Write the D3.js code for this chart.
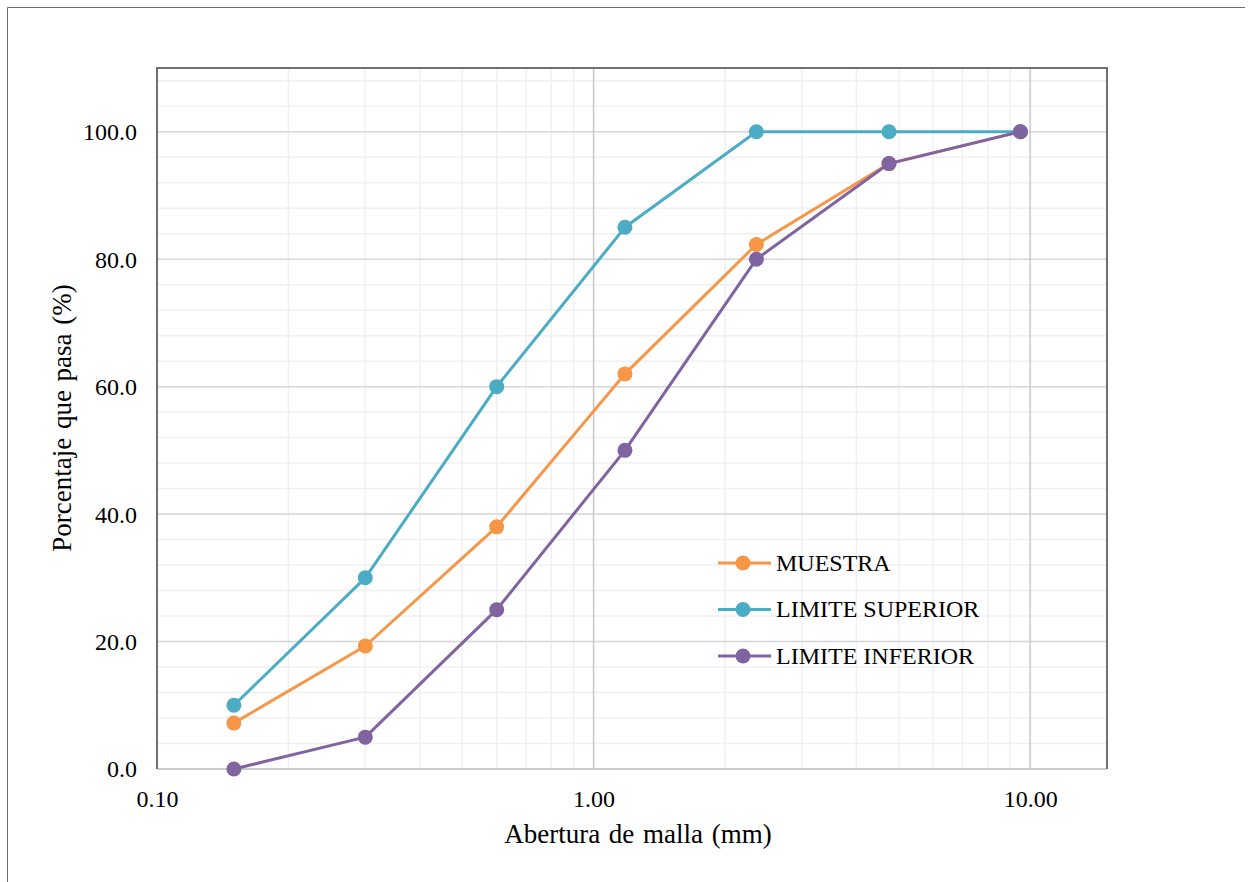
<!DOCTYPE html>
<html>
<head>
<meta charset="utf-8">
<script src="https://cdn.jsdelivr.net/npm/d3@7"></script>
<style>
  html, body { margin: 0; padding: 0; background: #fff; }
  svg { display: block; }
  text { font-family: "Liberation Serif", "Times New Roman", serif; fill: #000; }
</style>
</head>
<body>
<svg id="chart" width="1252" height="882"></svg>
<script>
// Sieve openings (mm) and percent passing
const aberturas = [0.15, 0.3, 0.6, 1.18, 2.36, 4.75, 9.5];
const muestra = [7.2, 19.3, 38.0, 62.0, 82.3, 95.0, 100.0];
const limiteSuperior = [10, 30, 60, 85, 100, 100, 100];
const limiteInferior = [0, 5, 25, 50, 80, 95, 100];
const seriesNames = ["MUESTRA", "LIMITE SUPERIOR", "LIMITE INFERIOR"];
const seriesColors = ["#f79646", "#4bacc6", "#8064a2"];
const xTickValues = [0.1, 1, 10];
const yTickValues = [0, 20, 40, 60, 80, 100];

const svg = d3.select("#chart");
const W = 1252, H = 882;
const m = { left: 157, top: 68, right: 1107, bottom: 769 };
const FONT = "Liberation Serif, Times New Roman, serif";

// Outer frame
svg.append("path")
  .attr("d", `M7.5,${H} V7.5 H1245`)
  .attr("fill", "none").attr("stroke", "#6e6e6e").attr("stroke-width", 1);

const x = d3.scaleLog().domain([0.1, 15]).range([m.left, m.right]);
const y = d3.scaleLinear().domain([0, 110]).range([m.bottom, m.top]);

const grid = svg.append("g");

// Minor horizontal grid every 4
grid.selectAll("line.hmin").data(d3.range(0, 111, 4))
  .join("line")
  .attr("x1", m.left).attr("x2", m.right)
  .attr("y1", d => y(d)).attr("y2", d => y(d))
  .attr("stroke", "#f0f0f0").attr("stroke-width", 1.5);

// Minor vertical grid (2..9 within each decade)
const minorX = [];
[0.1, 1].forEach(dec => { for (let k = 2; k <= 9; k++) minorX.push(dec * k); });
grid.selectAll("line.vmin").data(minorX)
  .join("line")
  .attr("x1", d => x(d)).attr("x2", d => x(d))
  .attr("y1", m.top).attr("y2", m.bottom)
  .attr("stroke", "#f0f0f0").attr("stroke-width", 1.5);

// Major horizontal grid
grid.selectAll("line.hmaj").data(yTickValues.filter(d => d > 0))
  .join("line")
  .attr("x1", m.left).attr("x2", m.right)
  .attr("y1", d => y(d)).attr("y2", d => y(d))
  .attr("stroke", "#d9d9d9").attr("stroke-width", 1.5);

// Major vertical grid
grid.selectAll("line.vmaj").data(xTickValues.filter(d => d > 0.1))
  .join("line")
  .attr("x1", d => x(d)).attr("x2", d => x(d))
  .attr("y1", m.top).attr("y2", m.bottom)
  .attr("stroke", "#c8c8c8").attr("stroke-width", 1.5);

// Bottom axis line
svg.append("line")
  .attr("x1", m.left).attr("x2", m.right)
  .attr("y1", m.bottom).attr("y2", m.bottom)
  .attr("stroke", "#bfbfbf").attr("stroke-width", 1.5);

// Plot border: left, top, right
svg.append("path")
  .attr("d", `M${m.left},${m.bottom} V${m.top} H${m.right} V${m.bottom}`)
  .attr("fill", "none").attr("stroke", "#707070").attr("stroke-width", 2);

// Axes (labels only)
const xAxis = d3.axisBottom(x).tickValues(xTickValues).tickSize(0).tickPadding(0)
  .tickFormat(d3.format(".2f"));
svg.append("g").attr("transform", `translate(0,${m.bottom})`).call(xAxis)
  .attr("font-family", FONT).attr("font-size", 24)
  .call(g => g.select(".domain").remove())
  .call(g => g.selectAll("text").attr("dy", null).attr("y", 38).attr("fill", "#000"));

const yAxis = d3.axisLeft(y).tickValues(yTickValues).tickSize(0).tickPadding(0)
  .tickFormat(d3.format(".1f"));
svg.append("g").attr("transform", `translate(137,0)`).call(yAxis)
  .attr("font-family", FONT).attr("font-size", 24)
  .call(g => g.select(".domain").remove())
  .call(g => g.selectAll("text").attr("dy", "0.33em").attr("fill", "#000"));

// Axis titles
svg.append("text")
  .attr("x", 638).attr("y", 843)
  .attr("text-anchor", "middle")
  .attr("font-size", 27)
  .attr("word-spacing", 2)
  .text("Abertura de malla (mm)");

svg.append("text")
  .attr("transform", "translate(71,418) rotate(-90)")
  .attr("text-anchor", "middle")
  .attr("font-size", 27)
  .attr("word-spacing", 2)
  .text("Porcentaje que pasa (%)");

// Series
const allSeries = [muestra, limiteSuperior, limiteInferior];
const line = d3.line().x(d => x(d[0])).y(d => y(d[1]));
allSeries.forEach((vals, i) => {
  const pts = aberturas.map((a, j) => [a, vals[j]]);
  const g = svg.append("g");
  g.append("path").datum(pts)
    .attr("d", line)
    .attr("fill", "none")
    .attr("stroke", seriesColors[i])
    .attr("stroke-width", 3)
    .attr("stroke-linejoin", "round");
  g.selectAll("circle").data(pts).join("circle")
    .attr("cx", d => x(d[0])).attr("cy", d => y(d[1]))
    .attr("r", 7.5)
    .attr("fill", seriesColors[i]);
});

// Legend
const legend = svg.append("g");
seriesNames.forEach((name, i) => {
  const ly = 563 + i * 46.5;
  legend.append("line")
    .attr("x1", 718).attr("x2", 771)
    .attr("y1", ly).attr("y2", ly)
    .attr("stroke", seriesColors[i]).attr("stroke-width", 3);
  legend.append("circle")
    .attr("cx", 743).attr("cy", ly).attr("r", 7.5)
    .attr("fill", seriesColors[i]);
  legend.append("text")
    .attr("x", 776).attr("y", ly).attr("dy", "0.33em")
    .attr("font-size", 24)
    .text(name);
});
</script>
</body>
</html>
